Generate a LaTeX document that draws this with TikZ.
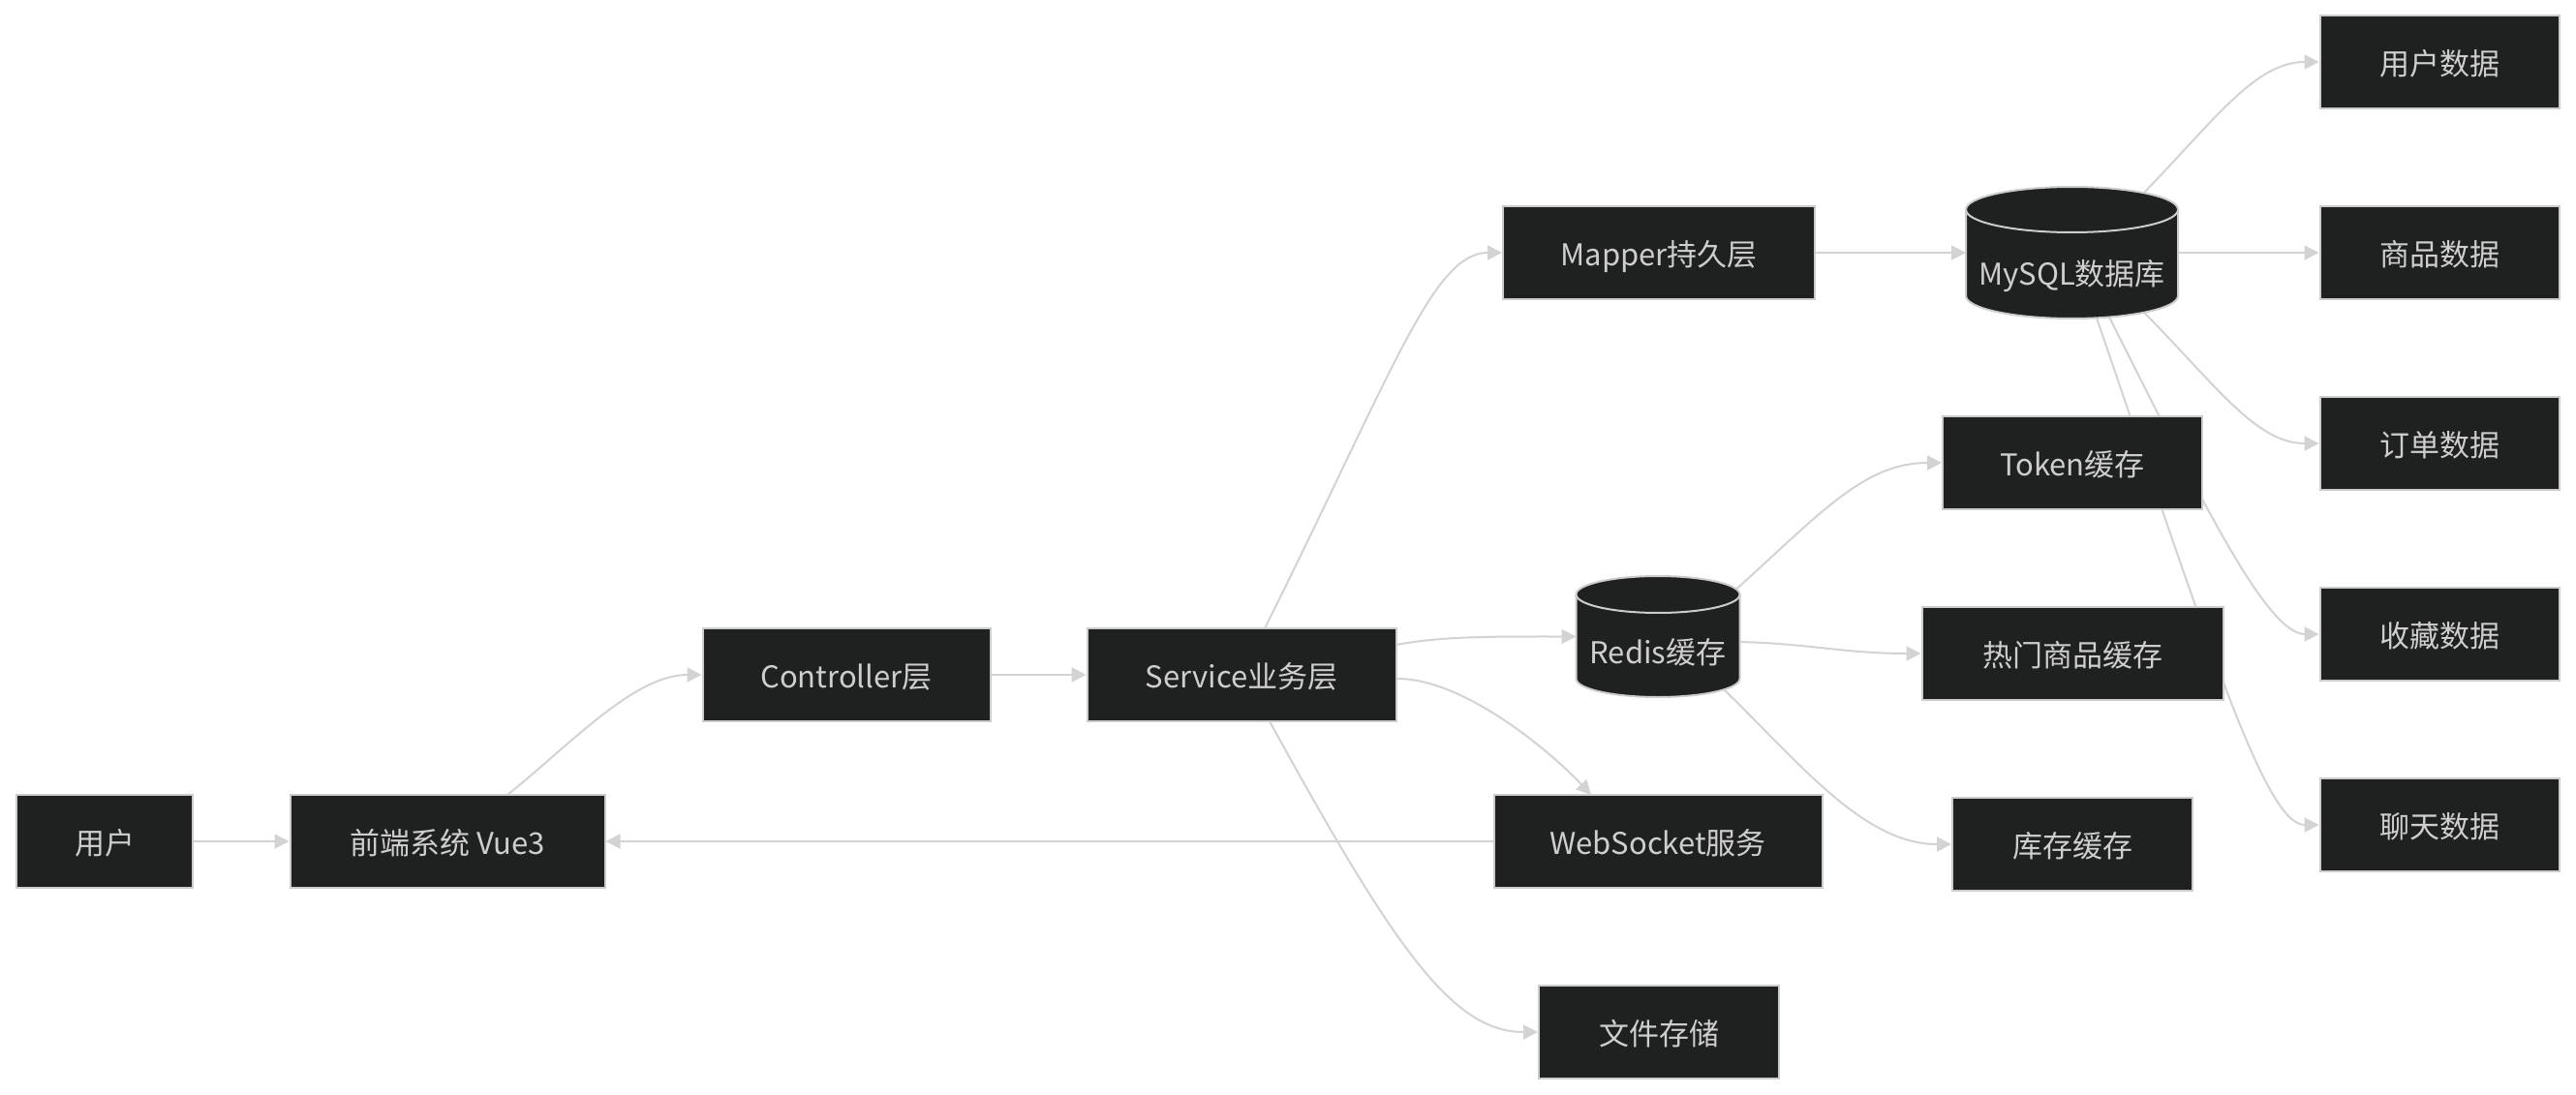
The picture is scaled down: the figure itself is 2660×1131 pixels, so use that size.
\documentclass[tikz,border=0pt]{standalone}
\usepackage{fontspec}
\setmainfont{Noto Sans CJK SC}
\usetikzlibrary{arrows.meta,calc}
\definecolor{nodefill}{RGB}{31,32,32}
\definecolor{nodeline}{RGB}{204,204,204}
\definecolor{nodetext}{RGB}{206,206,206}
\definecolor{edgecol}{RGB}{211,211,211}
\pgfdeclarelayer{back}
\pgfdeclarelayer{edges}
\pgfsetlayers{back,edges,main}
\begin{document}
\begin{tikzpicture}[x=1pt,y=-1pt,
  box/.style={draw=nodeline,fill=nodefill,line width=2pt,text=nodetext,
    minimum height=96pt,inner sep=0pt,text height=29pt,text depth=2pt,
    font=\fontsize{31pt}{36pt}\selectfont},
  dbnode/.style={inner sep=0pt,outer sep=0pt},
  dbtext/.style={inner sep=0pt,text=nodetext,text height=29pt,text depth=2pt,
    font=\fontsize{31pt}{36pt}\selectfont},
  dbshape/.style={draw=nodeline,fill=nodefill,line width=2pt},
  edge/.style={draw=edgecol,line width=2pt,-{Triangle[length=15pt,width=15pt]}}]
\begin{pgfonlayer}{back}
\fill[white] (0,0) rectangle (2660,1131);
\end{pgfonlayer}
\useasboundingbox (0,0) rectangle (2660,1131);

% nodes
\node[box,minimum width=182pt] (user) at (108,869) {用户};
\node[box,minimum width=325pt] (fe) at (462,869) {前端系统 Vue3};
\node[box,minimum width=297pt] (ctrl) at (874,697) {Controller层};
\node[box,minimum width=319pt] (svc) at (1282,697) {Service业务层};
\node[box,minimum width=339pt] (ws) at (1712,869) {WebSocket服务};
\node[box,minimum width=248pt] (file) at (1713,1066) {文件存储};
\node[box,minimum width=322pt] (mapper) at (1713,261) {Mapper持久层};

% Redis cylinder
\node[dbnode,minimum width=169pt,minimum height=125pt] (redis) at (1712,657.5) {};
\draw[dbshape] (1627.5,614) -- (1627.5,701)
  arc[start angle=180,end angle=360,x radius=84.5pt,y radius=19pt]
  -- (1796.5,614)
  arc[start angle=0,end angle=180,x radius=84.5pt,y radius=19pt] -- cycle;
\draw[draw=nodeline,line width=2pt] (1627.5,614)
  arc[start angle=180,end angle=360,x radius=84.5pt,y radius=19pt];
\node[dbtext] (redislbl) at (1712,672) {Redis缓存};

% MySQL cylinder
\node[dbnode,minimum width=219pt,minimum height=136pt] (mysql) at (2139.5,261) {};
\draw[dbshape] (2030,216.5) -- (2030,305.5)
  arc[start angle=180,end angle=360,x radius=109.5pt,y radius=23.5pt]
  -- (2249,216.5)
  arc[start angle=0,end angle=180,x radius=109.5pt,y radius=23.5pt] -- cycle;
\draw[draw=nodeline,line width=2pt] (2030,216.5)
  arc[start angle=180,end angle=360,x radius=109.5pt,y radius=23.5pt];
\node[dbtext] (mysqllbl) at (2139.5,281) {MySQL数据库};

\node[box,minimum width=268pt] (token) at (2140,478) {Token缓存};
\node[box,minimum width=311pt] (hot) at (2140,675) {热门商品缓存};
\node[box,minimum width=248pt] (stock) at (2140,872) {库存缓存};

\node[box,minimum width=247pt] (ud) at (2519,64) {用户数据};
\node[box,minimum width=247pt] (gd) at (2519,261) {商品数据};
\node[box,minimum width=247pt] (od) at (2519,458) {订单数据};
\node[box,minimum width=247pt] (fd) at (2519,655) {收藏数据};
\node[box,minimum width=247pt] (cd) at (2519,852) {聊天数据};

% connectors
\begin{pgfonlayer}{edges}
\draw[edge] (user.east) -- (fe.west);
\draw[edge] ($(fe.center)+(62,-48)$) .. controls (590,768) and (655,697) .. (ctrl.west);
\draw[edge] (ctrl.east) -- (svc.west);
\draw[edge] ($(svc.center)+(24,-48)$) .. controls (1440,380) and (1480,261) .. (mapper.west);
\draw[edge] ($(svc.center)+(159.5,-31)$) .. controls (1490,657) and (1540,657.5) .. (redis.west);
\draw[edge] ($(svc.center)+(159.5,4)$) .. controls (1510,700) and (1600,775) .. ($(ws.center)+(-69,-48)$);
\draw[edge] ($(svc.center)+(29,48)$) .. controls (1440,980) and (1500,1066) .. (file.west);
\draw[edge] (ws.west) -- (fe.east);
\draw[edge] (mapper.east) -- (mysql.west);
\draw[edge] ($(redis.center)+(81,-49)$) .. controls (1880,530) and (1925,478) .. (token.west);
\draw[edge] ($(redis.center)+(85,5.5)$) .. controls (1870,665) and (1905,675) .. (hot.west);
\draw[edge] ($(redis.center)+(68,54.5)$) .. controls (1860,790) and (1925,872) .. (stock.west);
\draw[edge] ($(mysql.center)+(74.5,-62)$) .. controls (2290,120) and (2330,64) .. (ud.west);
\draw[edge] (mysql.east) -- (gd.west);
\draw[edge] ($(mysql.center)+(74.5,61.7)$) .. controls (2290,400) and (2330,458) .. (od.west);
\draw[edge] ($(mysql.center)+(38.5,66.5)$) .. controls (2270,510) and (2340,655) .. (fd.west);
\draw[edge] ($(mysql.center)+(25.5,67.3)$) .. controls (2285,680) and (2340,852) .. (cd.west);
\end{pgfonlayer}
\end{tikzpicture}
\end{document}
